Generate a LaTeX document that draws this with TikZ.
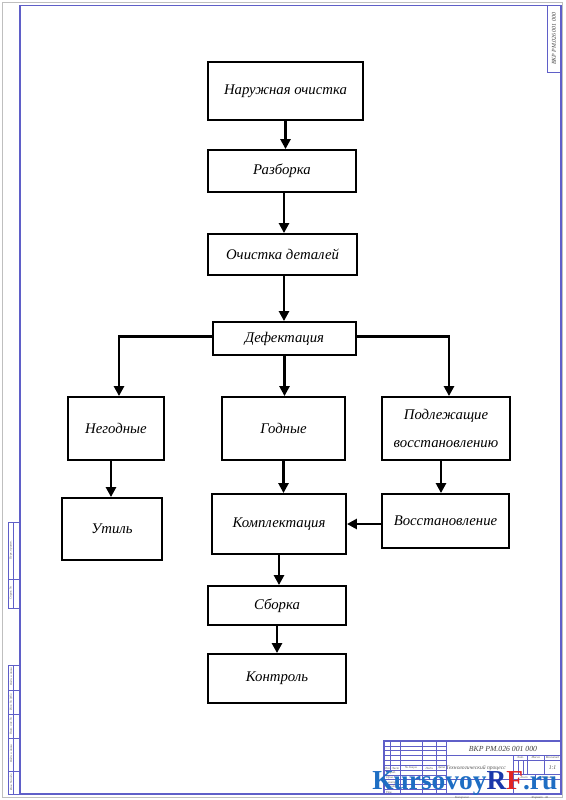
\documentclass[tikz,border=0pt]{standalone}
\usepackage{fontspec}
\setmainfont{Liberation Serif}
\usetikzlibrary{arrows.meta}
\definecolor{framecol}{RGB}{95,95,200}
\definecolor{wmblue}{RGB}{30,110,195}
\definecolor{wmdark}{RGB}{25,55,170}
\definecolor{wmred}{RGB}{225,35,35}
\tikzset{
  blk/.style={draw, line width=1.3pt, inner sep=0pt, align=center,
    font=\itshape\fontsize{10.5}{20}\selectfont},
  flow/.style={line width=2.1pt, -{Triangle[length=7pt,width=7pt]}},
  frm/.style={draw=framecol, line width=0.9pt},
  fine/.style={draw=framecol, line width=0.35pt},
  lbl/.style={font=\itshape\fontsize{2.2}{2.5}\selectfont, inner sep=0pt, text=black!65},
  stamp/.style={font=\itshape\fontsize{5.5}{6}\selectfont, inner sep=0pt, text=black!75}
}
\begin{document}
\begin{tikzpicture}[x=0.025cm, y=-0.025cm]
      \useasboundingbox (0,0) rectangle (565,800);
      % sheet and frame
      \draw[black!25, line width=0.4pt] (2.5,2.5) rectangle (562.5,797.5);
      \draw[frm] (20,5.5) rectangle (561,794);
      % stamp top right
      \draw[fine] (547,5.5) rectangle (561,72);
      \node[stamp, rotate=90, font=\itshape\fontsize{4.2}{5}\selectfont] (stamptop) at (554,39) {ВКР РМ.026 001 000};
      % side strip
      \draw[fine] (8.6,522) rectangle (20,608);
      \draw[fine] (13.4,522) -- (13.4,608);
      \draw[fine] (8.6,579) -- (20,579);
      \draw[fine] (8.6,665) rectangle (20,794);
      \draw[fine] (13.4,665) -- (13.4,794);
      \foreach \y in {690,714,738,771}
        \draw[fine] (8.6,\y) -- (20,\y);
      \node[lbl, rotate=90] (perv) at (11,550) {Перв. примен.};
      \node[lbl, rotate=90] (sprav) at (11,593) {Справ. №};
      \node[lbl, rotate=90] (podp1) at (11,677) {Подп. и дата};
      \node[lbl, rotate=90] (invd) at (11,702) {Инв. № дубл.};
      \node[lbl, rotate=90] (vzam) at (11,726) {Взам. инв. №};
      \node[lbl, rotate=90] (podp2) at (11,754) {Подп. и дата};
      \node[lbl, rotate=90] (invp) at (11,782) {Инв. № подл.};
      % title block
      \draw[frm] (384,741) rectangle (561,794);
      \foreach \k in {1,...,10}
        \draw[fine] (384,741+\k*4.82) -- (446.3,741+\k*4.82);
      \draw[fine] (390.7,741) -- (390.7,770);
      \foreach \x in {400.3,422.3,436.7}
        \draw[fine] (\x,741) -- (\x,794);
      \draw[frm] (446.3,741) -- (446.3,794);
      \draw[fine] (446.3,755.4) -- (561,755.4);
      \draw[fine] (446.3,779.4) -- (561,779.4);
      \draw[fine] (513.3,755.4) -- (513.3,794);
      \draw[fine] (513.3,760.2) -- (561,760.2);
      \draw[fine] (513.3,774.6) -- (561,774.6);
      \draw[fine] (527.7,755.4) -- (527.7,774.6);
      \draw[fine] (544,755.4) -- (544,774.6);
      \foreach \x in {518.1,522.9}
        \draw[fine] (\x,760.2) -- (\x,774.6);
      \draw[fine] (535,774.6) -- (535,779.4);
      \node[stamp] (oboz) at (503,748.5) {ВКР РМ.026 001 000};
      \node[lbl] (izm) at (387.3,768) {Изм.};
      \node[lbl] (list) at (395.5,768) {Лист};
      \node[lbl] (ndok) at (411.3,768) {№ докум.};
      \node[lbl] (podp) at (429.5,768) {Подп.};
      \node[lbl] (data) at (441.5,768) {Дата};
      \node[lbl] (razr) at (391,772.8) {Разраб.};
      \node[lbl] (prov) at (390,777.6) {Пров.};
      \node[lbl] (tkon) at (391,782.4) {Т. контр.};
      \node[lbl] (nkon) at (391,787.2) {Н. контр.};
      \node[lbl] (utv) at (389,792) {Утв.};
      \node[lbl] (lit) at (520.5,757.8) {Лит.};
      \node[lbl] (massa) at (535.8,757.8) {Масса};
      \node[lbl] (masht) at (552.5,757.8) {Масштаб};
      \node[stamp, font=\itshape\fontsize{4}{5}\selectfont] (msht) at (552.5,768) {1:1};
      \node[lbl] (lst) at (524,777) {Лист};
      \node[lbl] (lstv) at (548,777) {Листов \enspace 1};
      \node[lbl, font=\itshape\fontsize{4}{5}\selectfont] (naim) at (476,768) {Технологический процесс};
      \node[lbl] (kop) at (462,797.5) {Копировал};
      \node[lbl] (form) at (540,797.5) {Формат \enspace А1};
      % blocks
      \node[blk, minimum width=3.875cm, minimum height=1.45cm] (nar) at (285.5,91) {Наружная очистка};
      \node[blk, minimum width=3.7cm, minimum height=1.05cm] (raz) at (282,171) {Разборка};
      \node[blk, minimum width=3.725cm, minimum height=1.025cm] (och) at (282.5,254.5) {Очистка деталей};
      \node[blk, minimum width=3.575cm, minimum height=0.825cm] (def) at (284.5,338.5) {Дефектация};
      \node[blk, minimum width=2.4cm, minimum height=1.575cm] (neg) at (116,428.5) {Негодные};
      \node[blk, minimum width=3.075cm, minimum height=1.575cm] (god) at (283.5,428.5) {Годные};
      \node[blk, minimum width=3.2cm, minimum height=1.575cm] (podl) at (446,428.5) {Подлежащие\\восстановлению};
      \node[blk, minimum width=2.5cm, minimum height=1.55cm] (util) at (112,529) {Утиль};
      \node[blk, minimum width=3.35cm, minimum height=1.5cm] (kompl) at (279,524) {Комплектация};
      \node[blk, minimum width=3.175cm, minimum height=1.35cm] (vosst) at (445.5,521) {Восстановление};
      \node[blk, minimum width=3.45cm, minimum height=0.975cm] (sbor) at (277,605.5) {Сборка};
      \node[blk, minimum width=3.45cm, minimum height=1.225cm] (kontr) at (277,678.5) {Контроль};
      % arrows
      \draw[flow] (nar.south) -- (nar.south |- raz.north);
      \draw[flow] (raz.south) ++(2,0) coordinate (r1) -- (r1 |- och.north);
      \draw[flow] (och.south) ++(1.5,0) coordinate (o1) -- (o1 |- def.north);
      \draw[flow] (def.south) -- (def.south |- god.north);
      \draw[flow] ([yshift=0.05cm]def.west) -| ([xshift=0.075cm]neg.north);
      \draw[flow] ([yshift=0.05cm]def.east) -| ([xshift=0.075cm]podl.north);
      \draw[flow] (neg.south) ++(-5,0) coordinate (n1) -- (n1 |- util.north);
      \draw[flow] (god.south) -- (god.south |- kompl.north);
      \draw[flow] (podl.south) ++(-5,0) coordinate (p1) -- (p1 |- vosst.north);
      \draw[flow] ([yshift=-0.075cm]vosst.west) -- ([yshift=-0.075cm]vosst.west -| kompl.east);
      \draw[flow] (kompl.south) -- (kompl.south |- sbor.north);
      \draw[flow] (sbor.south) -- (sbor.south |- kontr.north);
      % watermark
      \node[anchor=base west, inner sep=0pt, font=\bfseries\fontsize{19.5}{20}\selectfont] (wm) at (372,789)
        {\textcolor{wmblue}{Kursovoy}\textcolor{wmdark}{R}\textcolor{wmred}{F}\textcolor{wmblue}{.ru}};
    \end{tikzpicture}
\end{document}
